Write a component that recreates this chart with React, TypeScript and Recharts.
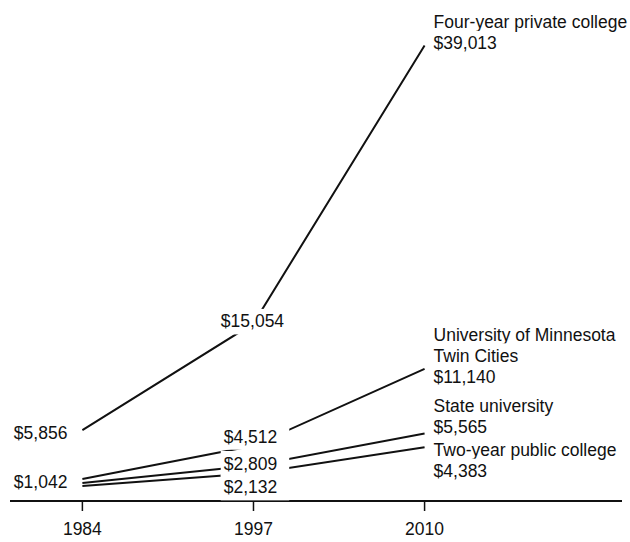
import { LabelList, Line, LineChart, XAxis, YAxis } from "recharts";

const years = [1984, 1997, 2010];
const fourYearPrivate = [5856, 15054, 39013];
const uMinnesota = [1650, 4512, 11140];
const stateUniversity = [1300, 2809, 5565];
const twoYearPublic = [1042, 2132, 4383];

const seriesNames: Record<string, string[]> = {
  fourYear: ["Four-year private college"],
  uMinn: ["University of Minnesota", "Twin Cities"],
  state: ["State university"],
  twoYear: ["Two-year public college"],
};

const rows = years.map((year, i) => ({
  year,
  fourYear: fourYearPrivate[i],
  uMinn: uMinnesota[i],
  state: stateUniversity[i],
  twoYear: twoYearPublic[i],
}));

// where each value label sits relative to its point (baseline offsets)
type Spot = { anchor: "start" | "middle" | "end"; dx: number; dy: number } | null;
const labelSpots: Record<string, Spot[]> = {
  fourYear: [
    { anchor: "end", dx: -15, dy: 9 },
    { anchor: "middle", dx: -1, dy: 4 },
    { anchor: "start", dx: 9, dy: 4 },
  ],
  uMinn: [null, { anchor: "middle", dx: -3, dy: -3 }, { anchor: "start", dx: 9, dy: 14 }],
  state: [null, { anchor: "middle", dx: -3, dy: 4 }, { anchor: "start", dx: 9, dy: -1 }],
  twoYear: [
    { anchor: "end", dx: -15, dy: 2 },
    { anchor: "middle", dx: -3, dy: 20 },
    { anchor: "start", dx: 9, dy: 30 },
  ],
};

const FONT = '"Liberation Sans", Arial, sans-serif';
const FS = 17.5;
const LINE_H = 21;
const INK = "#111";

const textWidth = (s: string) => {
  let w = 0;
  for (const ch of s) {
    if (/[0-9$]/.test(ch)) w += 0.556;
    else if (ch === ",") w += 0.278;
    else w += 0.5;
  }
  return w * FS;
};

const fmt = (v: number) => "$" + v.toLocaleString("en-US");

function makeLabel(key: string) {
  return (props: any) => {
    const { index, value } = props;
    const spot = labelSpots[key][index];
    if (!spot) return null;
    const vb = props.viewBox || {};
    const px = props.x ?? vb.x;
    const py = props.y ?? vb.y;
    const lines = index === years.length - 1 ? [...seriesNames[key], fmt(value)] : [fmt(value)];
    const x = px + spot.dx;
    const baseLast = py + spot.dy;
    return (
      <g>
        {lines.map((t, i) => {
          const base = baseLast - (lines.length - 1 - i) * LINE_H;
          const w = textWidth(t);
          const left = spot.anchor === "start" ? x : spot.anchor === "end" ? x - w : x - w / 2;
          return (
            <g key={i}>
              <rect x={left - 3} y={base - FS * 0.716 - 6} width={w + 15} height={FS * 0.716 + 13} fill="#fff" />
              <text x={x} y={base} textAnchor={spot.anchor} fontFamily={FONT} fontSize={FS} fill={INK}>
                {t}
              </text>
            </g>
          );
        })}
      </g>
    );
  };
}

const keys = ["fourYear", "uMinn", "state", "twoYear"];

export default function App() {
  return (
    <div style={{ position: "absolute", left: 0, top: 0, width: 630, height: 542, background: "#fff" }}>
      <LineChart width={630} height={542} data={rows} margin={{ top: 34, right: 8, bottom: 0, left: 10 }}>
        <XAxis
          dataKey="year"
          type="number"
          domain={[1978.5, 2025]}
          allowDataOverflow
          ticks={years}
          height={41}
          axisLine={{ stroke: INK, strokeWidth: 2 }}
          tickLine={{ stroke: INK, strokeWidth: 1.5 }}
          tickSize={10}
          tickMargin={12}
          tick={{ fill: INK, fontFamily: FONT, fontSize: FS }}
        />
        <YAxis hide type="number" domain={[-250, 40000]} allowDataOverflow />
        {keys.map((k) => (
          <Line
            key={k}
            dataKey={k}
            type="linear"
            stroke={INK}
            strokeWidth={2}
            dot={false}
            activeDot={false}
            isAnimationActive={false}
          >
            <LabelList dataKey={k} content={makeLabel(k)} />
          </Line>
        ))}
      </LineChart>
    </div>
  );
}
